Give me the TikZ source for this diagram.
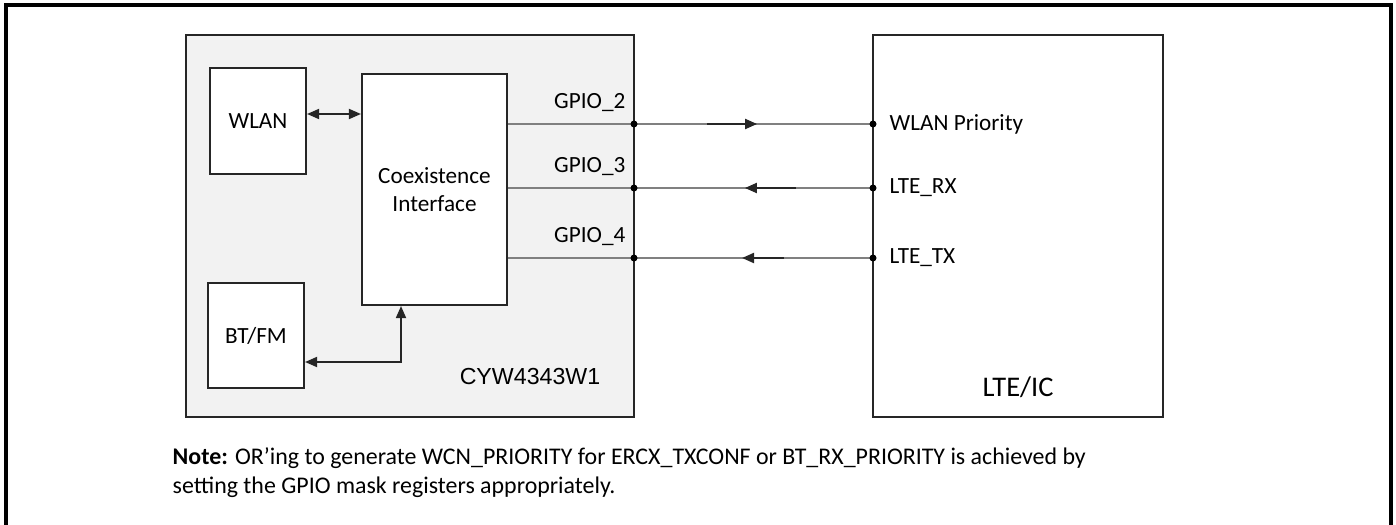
\documentclass[tikz,border=0pt]{standalone}
\usepackage{fontspec}
\setmainfont{Carlito}
\newfontfamily\arialfont{Liberation Sans}
\usetikzlibrary{arrows.meta,positioning,calc}
\tikzset{
  >={Triangle[length=1.2mm, width=1mm]},
  frame/.style={draw=black, line width=0.9pt},
  chipbox/.style={draw=black!85, fill=black!5, line width=0.6pt, inner sep=0pt},
  blk/.style={draw=black!85, fill=white, line width=0.6pt, align=center, font=\fontsize{6.6}{8}\selectfont, inner sep=0pt},
  wire/.style={draw=black!50, line width=0.5pt},
  sig/.style={->, draw=black!85, line width=0.6pt},
  link/.style={<->, draw=black!85, line width=0.5pt},
  pin/.style={circle, fill=black, inner sep=0pt, minimum size=0.7mm},
  lbl/.style={font=\fontsize{6.6}{8}\selectfont, inner sep=0pt},
  note/.style={font=\fontsize{6.8}{8.2}\selectfont, align=left, inner sep=0pt},
}
\begin{document}
\begin{tikzpicture}[x=0.1mm, y=-0.1mm]
  \useasboundingbox (0,0) rectangle (1396,525);
  \clip (0,0) rectangle (1396,525);
  \draw[frame] (6,5) rectangle (1391,545);
  % the two chips
  \node[chipbox, minimum width=44.8mm, minimum height=38.2mm] (chip) at (410,226) {};
  \node[chipbox, fill=white, minimum width=29mm, minimum height=38.2mm] (lte) at (1018,226) {};
  \node[lbl, font=\arialfont\fontsize{6.6}{8}\selectfont] (chipname) at (530,377) {CYW4343W1};
  \node[lbl, font=\fontsize{8.1}{9}\selectfont] (ltename) at (1018,387) {LTE/IC};
  % blocks inside the CYW4343W1
  \node[blk, minimum width=9.6mm, minimum height=10.6mm] (wlan) at (258,121) {WLAN};
  \node[blk, minimum width=14.5mm, minimum height=23.1mm] (coex) at (434.5,189.5) {Coexistence\\Interface};
  \node[blk, minimum width=9.6mm, minimum height=10.5mm] (btfm) at (256,335.5) {BT/FM};
  \draw[link] ([yshift=0.7mm]wlan.east) -- ([yshift=0.7mm]wlan.east -| coex.west);
  \coordinate (btj) at (401,362);
  \draw[link] (btfm.east |- btj) -- (btj) -- (btj |- coex.south);
  % GPIO lines
  \foreach \n/\y/\a/\b/\g/\l in {2/124/0.305/0.515/GPIO\_2/WLAN Priority,
                                 3/188/0.678/0.464/GPIO\_3/LTE\_RX,
                                 4/258/0.628/0.452/GPIO\_4/LTE\_TX} {
    \coordinate (g\n) at (634,\y);
    \coordinate (l\n) at (873,\y);
    \draw[wire] (coex.east |- g\n) -- (l\n);
    \draw[sig] ($(g\n)!\a!(l\n)$) -- ($(g\n)!\b!(l\n)$);
    \node[pin] (gp\n) at (g\n) {};
    \node[pin] (lp\n) at (l\n) {};
    \node[lbl, anchor=east] (gl\n) at ([xshift=-0.8mm, yshift=2.1mm]g\n) {\g};
    \node[lbl, anchor=west] (ll\n) at ([xshift=1.6mm]l\n) {\l};
  }
  \node[note, anchor=north west] (note) at (172,447)
    {\textbf{Note:} OR’ing to generate WCN\_PRIORITY for ERCX\_TXCONF or BT\_RX\_PRIORITY is achieved by\\
     setting the GPIO mask registers appropriately.};
\end{tikzpicture}
\end{document}
